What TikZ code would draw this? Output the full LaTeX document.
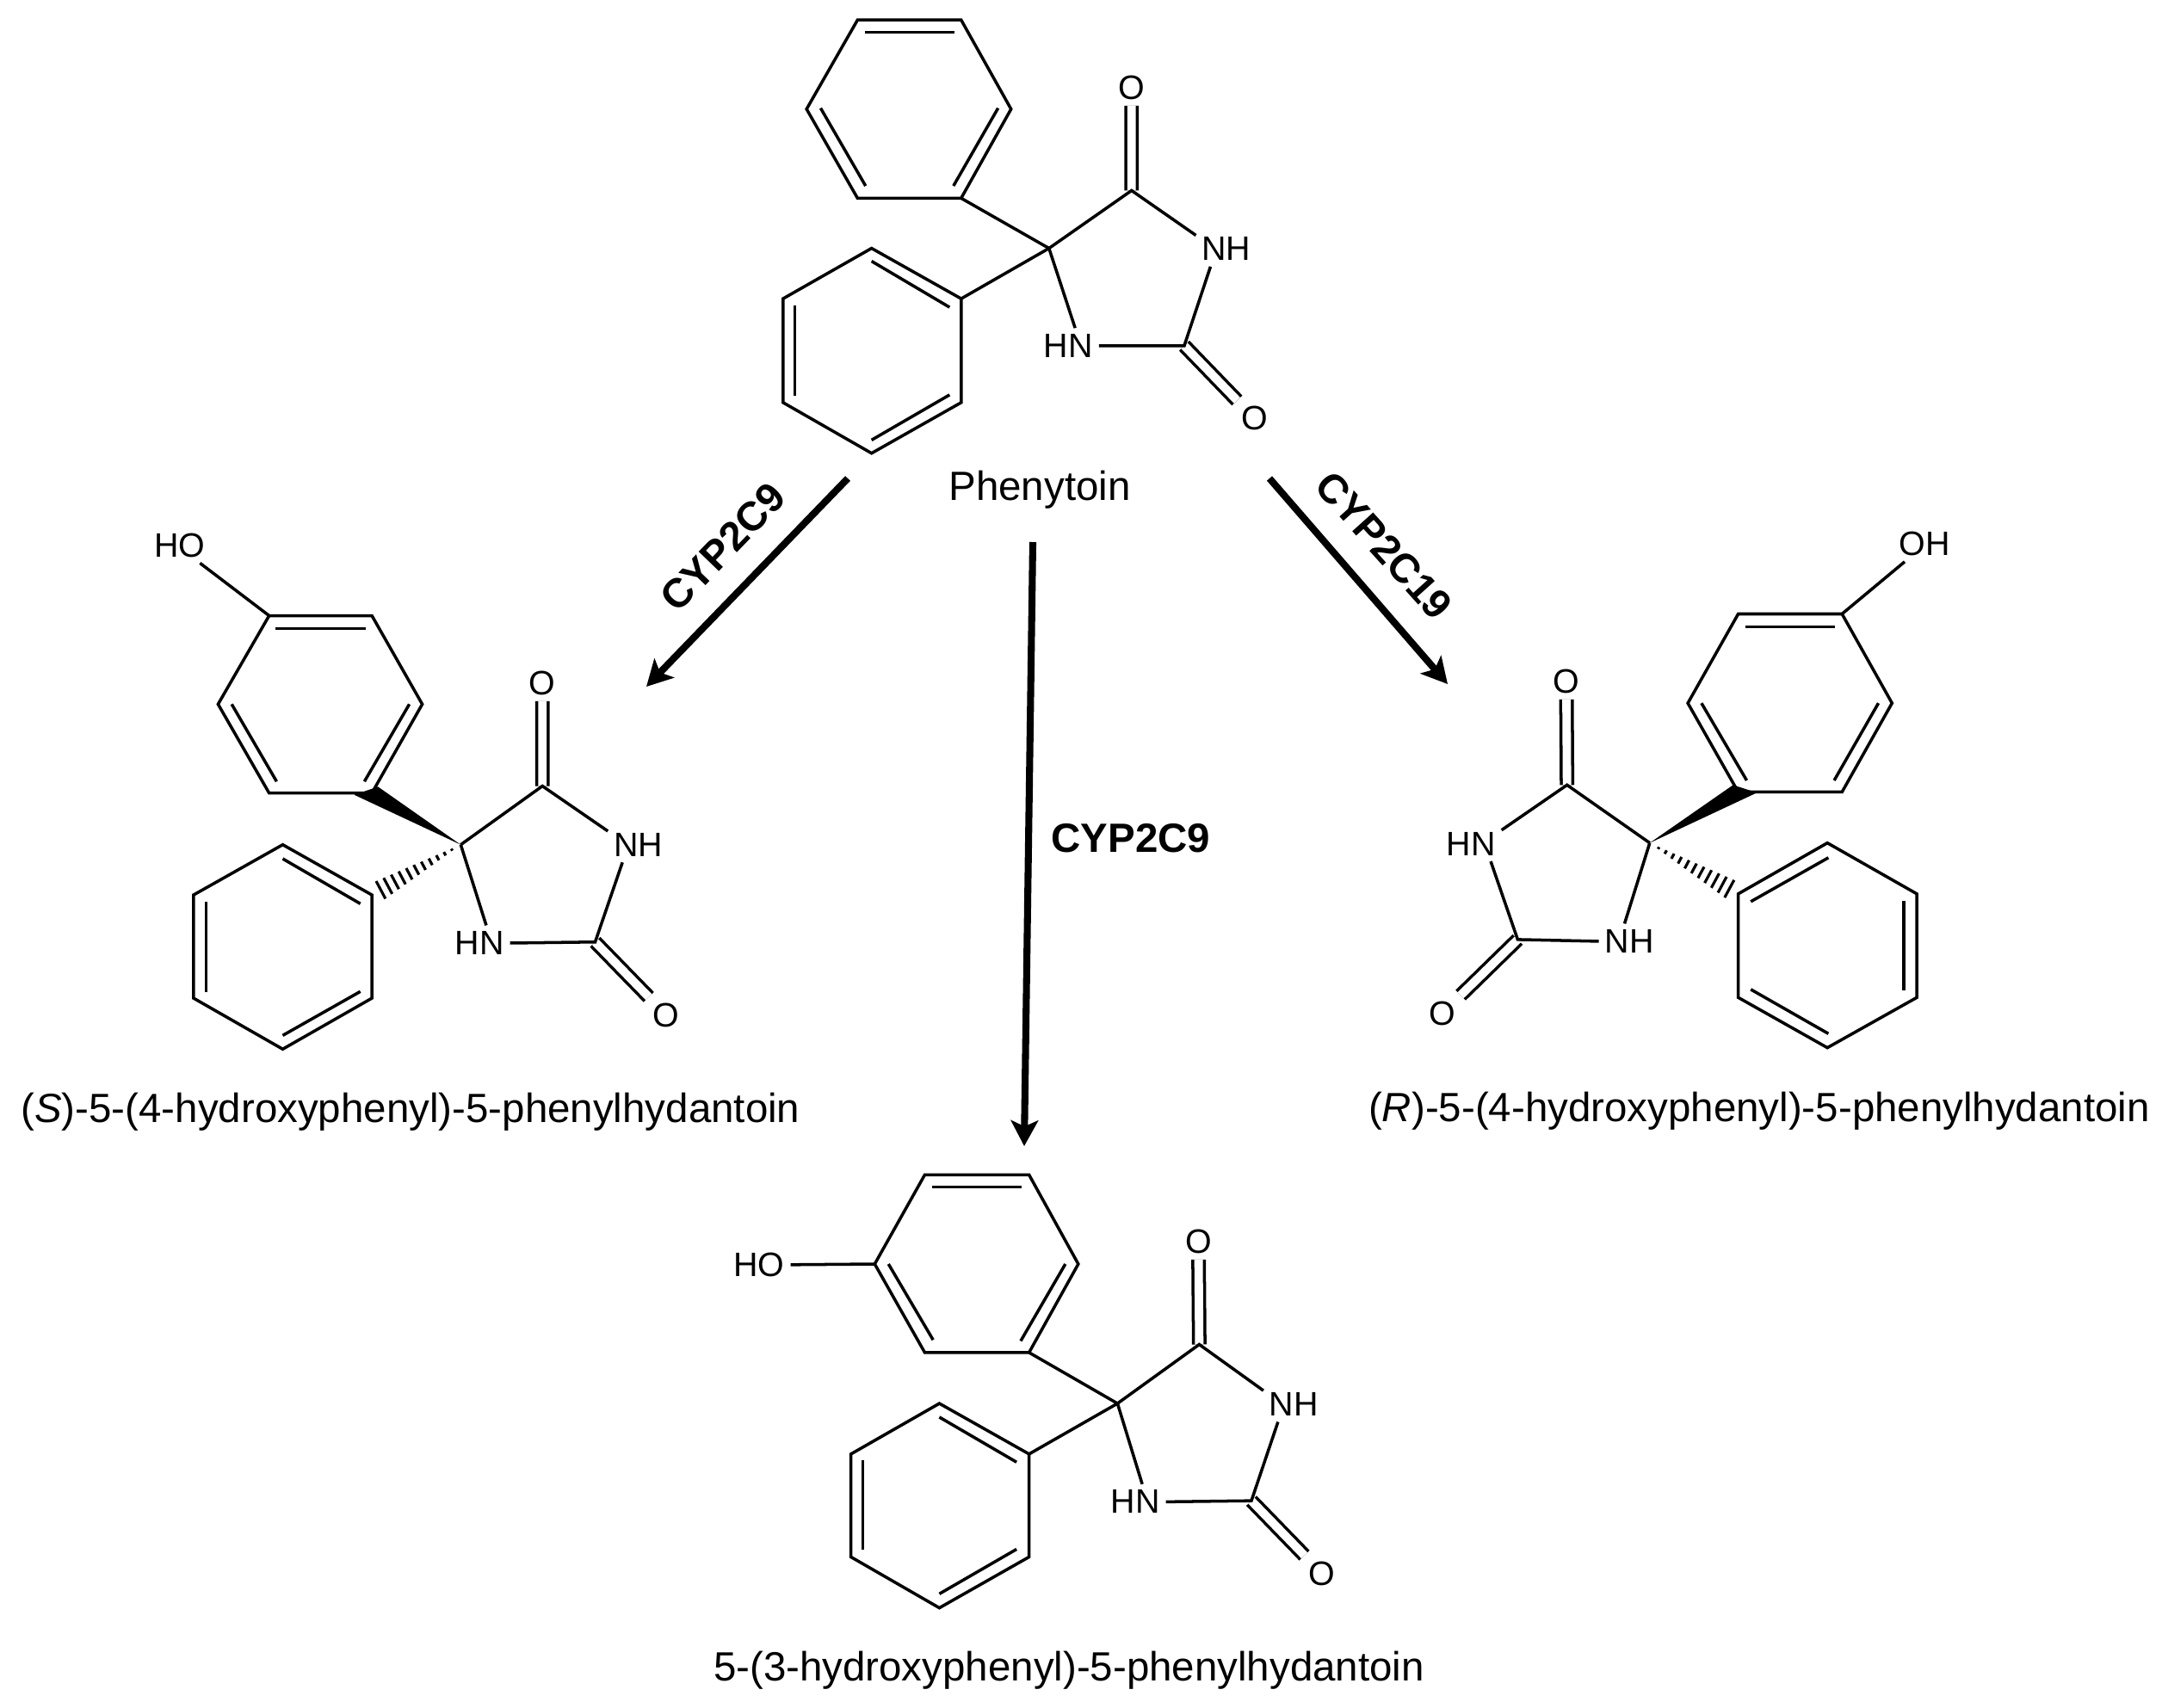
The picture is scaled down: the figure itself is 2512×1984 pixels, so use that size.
\documentclass[tikz,border=0pt]{standalone}
\usepackage{fontspec}
\setmainfont{Liberation Sans}
\usepackage{tikz}
\usetikzlibrary{arrows.meta,calc}
\tikzstyle{arrow} = [line width=2.3pt,-{Stealth[length=8.5pt,width=9pt,inset=2pt]}]
\tikzstyle{bond} = [line width=1pt]
\tikzstyle{dbond} = [line width=1pt,double,double distance=2.8pt]
\tikzstyle{atom} = [font=\fontsize{11.2}{13}\selectfont,inner sep=1.8pt]
\tikzstyle{molname} = [font=\fontsize{13.5}{16}\selectfont,inner sep=0pt]
\tikzstyle{enzyme} = [font=\fontsize{13.5}{16}\selectfont\bfseries,inner sep=0pt]
\newcommand{\hashbond}[2]{%
    \foreach \t in {0.1,0.18,...,0.92} {
        \coordinate (hashpt) at ($(#1)!\t!(#2)$);
        \draw[line width=0.9pt] ($(hashpt)!{9*\t*1pt}!90:(#2)$) -- ($(hashpt)!{9*\t*1pt}!-90:(#2)$);
    }}

\begin{document}
\begin{tikzpicture}[x=0.01cm,y=-0.01cm]
    \useasboundingbox (0,0) rectangle (2512,1984);

    % Phenytoin
    \begin{scope}[shift={(880,0)},xscale=0.4082,yscale=0.3571]
        \node[atom] (ao1) at (1065,285) {O};
        \node[atom] (anh) at (1335,810) {NH};
        \node[atom] (ahn) at (885,1125) {HN};
        \node[atom] (ao2) at (1415,1362) {O};
        \coordinate (ac5) at (830,808);
        \coordinate (ac4) at (1065,620);
        \coordinate (ac2) at (1215,1125);
        \draw[dbond] (ac4) -- (ao1);
        \draw[dbond] (ac2) -- (ao2);
        \draw[bond] (ac5) -- (ac4) -- (anh.156);
        \draw[bond] (anh.228) -- (ac2) -- (ahn.east);
        \draw[bond] (ahn.69) -- (ac5);
        \draw[bond] (285,65) -- (580,65) -- (722,355) -- (580,645) coordinate (ai1) -- (285,645) -- (140,355) -- cycle;
        \draw[bond] (305,105) -- (560,105);
        \draw[bond] (180,352) -- (308,605);
        \draw[bond] (685,352) -- (558,605);
        \draw[bond] (580,972) coordinate (ai2) -- (325,808) -- (73,972) -- (73,1310) -- (325,1475) -- (580,1310) -- cycle;
        \draw[bond] (325,850) -- (547,1000);
        \draw[bond] (107,995) -- (107,1288);
        \draw[bond] (325,1432) -- (547,1285);
        \draw[bond] (ac5) -- (ai1);
        \draw[bond] (ac5) -- (ai2);
    \end{scope}
    \node[molname] (phenytoin) at (1208,569) {Phenytoin};

    % S product
    \begin{scope}[shift={(200,600)},xscale=0.3954,yscale=0.4082]
        \node[atom] (bho) at (23,82) {HO};
        \node[atom] (bo1) at (1088,475) {O};
        \node[atom] (bnh) at (1370,935) {NH};
        \node[atom] (bhn) at (903,1215) {HN};
        \node[atom] (bo2) at (1452,1420) {O};
        \coordinate (bc5) at (848,935);
        \coordinate (bc4) at (1088,768);
        \coordinate (bc2) at (1243,1212);
        \draw[dbond] (bc4) -- (bo1);
        \draw[dbond] (bc2) -- (bo2);
        \draw[bond] (bc5) -- (bc4) -- (bnh.156);
        \draw[bond] (bnh.228) -- (bc2) -- (bhn.east);
        \draw[bond] (bhn.69) -- (bc5);
        \draw[bond] (285,283) coordinate (bi3) -- (587,283) -- (735,535) -- (587,788) -- (285,788) -- (135,535) -- cycle;
        \draw[bond] (303,320) -- (570,320);
        \draw[bond] (175,535) -- (307,755);
        \draw[bond] (697,535) -- (565,755);
        \draw[bond] (bho.-42) -- (bi3);
        \draw[bond] (587,1078) coordinate (bi2) -- (325,935) -- (63,1078) -- (63,1372) -- (325,1517) -- (587,1372) -- cycle;
        \draw[bond] (325,975) -- (553,1103);
        \draw[bond] (100,1098) -- (100,1355);
        \draw[bond] (325,1478) -- (553,1353);
        \fill (bc5) -- (605,770) -- (535,793) -- cycle;
        \hashbond{bc5}{bi2}
    \end{scope}
    \node[molname] (sname) at (477,1292) {(\textit{S})-5-(4-hydroxyphenyl)-5-phenylhydantoin};

    % R product
    \begin{scope}[shift={(1640,600)},xscale=0.3954,yscale=0.4082]
        \node[atom] (cho) at (1508,78) {OH};
        \node[atom] (co1) at (455,470) {O};
        \node[atom] (chn) at (175,932) {HN};
        \node[atom] (cnh) at (640,1210) {NH};
        \node[atom] (co2) at (90,1415) {O};
        \coordinate (cc5) at (700,930);
        \coordinate (cc4) at (457,765);
        \coordinate (cc2) at (312,1205);
        \draw[dbond] (cc4) -- (co1);
        \draw[dbond] (cc2) -- (co2);
        \draw[bond] (cc5) -- (cc4) -- (chn.24);
        \draw[bond] (chn.-42) -- (cc2) -- (cnh.west);
        \draw[bond] (cnh.105) -- (cc5);
        \draw[bond] (960,278) -- (1265,278) coordinate (ci3) -- (1412,532) -- (1265,785) -- (960,785) -- (812,532) -- cycle;
        \draw[bond] (980,315) -- (1245,315);
        \draw[bond] (852,532) -- (985,752);
        \draw[bond] (1372,532) -- (1242,752);
        \draw[bond] (cho.222) -- (ci3);
        \draw[bond] (960,1075) coordinate (ci2) -- (1222,930) -- (1485,1075) -- (1485,1370) -- (1222,1513) -- (960,1370) -- cycle;
        \draw[bond] (997,1097) -- (1225,972);
        \draw[bond] (1447,1095) -- (1447,1350);
        \draw[bond] (997,1347) -- (1225,1473);
        \fill (cc5) -- (945,765) -- (1015,787) -- cycle;
        \hashbond{cc5}{ci2}
    \end{scope}
    \node[molname] (rname) at (2044,1291) {(\textit{R})-5-(4-hydroxyphenyl)-5-phenylhydantoin};

    % 3-hydroxy product
    \begin{scope}[shift={(820,1340)},xscale=0.4847,yscale=0.4082]
        \node[atom] (dho) at (128,318) {HO};
        \node[atom] (do1) at (1181,252) {O};
        \node[atom] (dnh) at (1410,715) {NH};
        \node[atom] (dhn) at (1030,993) {HN};
        \node[atom] (do2) at (1477,1197) {O};
        \coordinate (dc5) at (987,713);
        \coordinate (dc4) at (1183,545);
        \coordinate (dc2) at (1308,990);
        \draw[dbond] (dc4) -- (do1);
        \draw[dbond] (dc2) -- (do2);
        \draw[bond] (dc5) -- (dc4) -- (dnh.156);
        \draw[bond] (dnh.228) -- (dc2) -- (dhn.east);
        \draw[bond] (dhn.69) -- (dc5);
        \draw[bond] (525,62) -- (775,62) -- (893,316) -- (775,568) coordinate (di1) -- (525,568) -- (405,316) coordinate (di3) -- cycle;
        \draw[bond] (543,97) -- (757,97);
        \draw[bond] (438,316) -- (545,532);
        \draw[bond] (862,316) -- (755,535);
        \draw[bond] (dho.east) -- (di3);
        \draw[bond] (775,857) coordinate (di2) -- (560,713) -- (348,857) -- (348,1150) -- (560,1295) -- (775,1150) -- cycle;
        \draw[bond] (560,752) -- (745,880);
        \draw[bond] (376,875) -- (376,1130);
        \draw[bond] (560,1255) -- (745,1128);
        \draw[bond] (dc5) -- (di1);
        \draw[bond] (dc5) -- (di2);
    \end{scope}
    \node[molname] (dname) at (1242,1941) {5-(3-hydroxyphenyl)-5-phenylhydantoin};

    % Arrows
    \coordinate (leftstart) at (985,556);
    \coordinate (lefttip) at (751,798);
    \coordinate (midstart) at (1200,630);
    \coordinate (midtip) at (1190,1332);
    \coordinate (rightstart) at (1475,556);
    \coordinate (righttip) at (1682,795);
    \draw[arrow] (leftstart) -- (lefttip);
    \draw[arrow] (midstart) -- (midtip);
    \draw[arrow] (rightstart) -- (righttip);
    \node[enzyme, rotate=46] (enzleft) at (840,636) {CYP2C9};
    \node[enzyme] (enzmid) at (1314,974) {CYP2C9};
    \node[enzyme, rotate=-48] (enzright) at (1608,634) {CYP2C19};
\end{tikzpicture}
\end{document}
